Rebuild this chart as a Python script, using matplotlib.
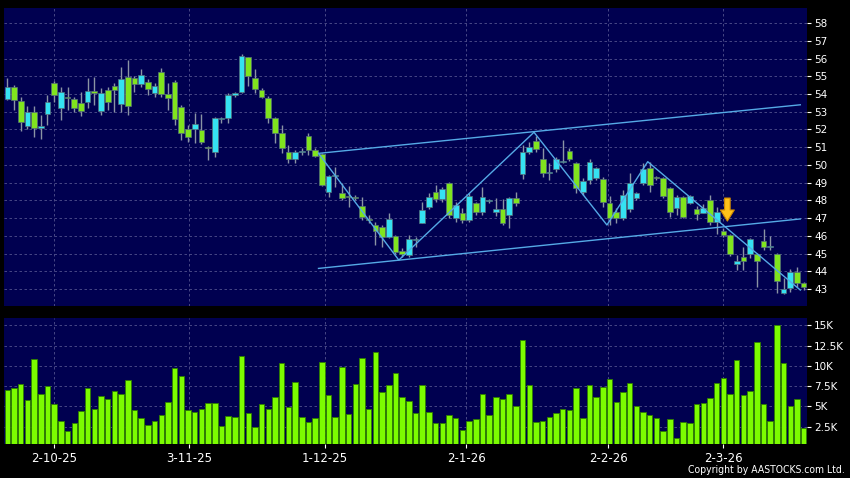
import matplotlib.pyplot as plt
import numpy as np

# daily OHLC, one entry per trading day
opens = [53.70, 54.41, 53.60, 52.20, 53.00, 52.10, 52.87, 54.60, 53.19, 53.80,
         53.70, 53.47, 53.52, 54.18, 53.05, 54.22, 54.47, 53.41, 54.97, 54.88,
         54.54, 54.69, 54.03, 55.22, 54.00, 54.65, 53.28, 52.00, 52.00, 51.97,
         50.98, 50.74, 52.60, 52.62, 53.96, 54.09, 56.06, 54.88, 54.22, 53.80,
         52.62, 51.78, 50.74, 50.31, 50.74, 51.63, 50.84, 50.61, 48.49, 49.37,
         48.39, 48.24, 48.17, 47.68, 46.93, 46.61, 46.51, 45.95, 45.99, 45.14,
         44.90, 45.76, 46.74, 47.64, 48.49, 48.05, 48.99, 46.98, 47.30, 46.89,
         47.83, 47.36, 47.96, 47.36, 47.49, 47.17, 48.11, 49.48, 50.74, 51.36,
         50.31, 49.56, 49.75, 50.18, 50.78, 50.08, 48.49, 49.15, 49.28, 49.18,
         47.83, 47.36, 46.98, 47.49, 48.15, 48.99, 49.80, 49.28, 49.24, 48.67,
         47.55, 48.17, 47.87, 47.49, 47.30, 48.02, 46.79, 46.27, 46.04, 44.41,
         44.78, 45.00, 44.97, 45.72, 45.38, 44.97, 42.79, 43.03, 43.97, 43.32]
highs = [54.88, 54.50, 53.85, 53.35, 53.30, 52.80, 53.94, 54.75, 54.41, 54.41,
         53.85, 54.13, 54.88, 54.97, 54.31, 54.41, 54.60, 55.54, 55.91, 55.01,
         55.39, 54.82, 54.63, 55.44, 54.60, 54.78, 53.37, 52.25, 52.90, 52.87,
         51.06, 52.72, 52.72, 54.07, 54.13, 56.25, 56.10, 55.39, 54.31, 53.88,
         52.72, 52.25, 51.12, 50.84, 50.93, 51.78, 50.93, 50.69, 49.43, 49.90,
         48.96, 48.81, 48.30, 48.20, 47.17, 46.80, 46.61, 47.27, 46.04, 45.30,
         46.04, 45.95, 47.92, 48.39, 48.86, 48.77, 49.05, 47.92, 47.55, 48.39,
         47.92, 48.77, 48.05, 48.11, 48.09, 48.20, 48.49, 51.12, 51.30, 51.63,
         50.93, 50.08, 50.42, 51.40, 50.93, 50.18, 49.24, 50.31, 49.90, 49.33,
         48.24, 47.55, 48.58, 49.52, 48.49, 50.08, 50.18, 49.35, 49.33, 48.77,
         48.30, 48.24, 48.30, 47.68, 47.79, 48.30, 47.64, 46.42, 46.10, 44.92,
         45.38, 45.85, 45.05, 46.36, 45.99, 45.05, 43.60, 44.10, 44.26, 43.41]
lows = [53.65, 53.10, 51.90, 52.00, 51.60, 51.45, 52.25, 53.56, 52.53, 53.10,
        53.00, 52.75, 53.19, 53.37, 52.81, 53.09, 53.00, 53.00, 52.81, 54.13,
        54.41, 53.94, 53.84, 53.84, 53.10, 52.25, 51.40, 51.31, 51.21, 51.18,
        50.27, 50.46, 52.34, 52.34, 53.84, 54.03, 54.45, 54.03, 53.80, 52.34,
        51.21, 50.65, 50.08, 50.12, 50.55, 50.55, 50.46, 48.81, 48.17, 48.77,
        48.02, 47.64, 48.02, 46.89, 46.70, 45.48, 45.39, 45.85, 45.00, 44.82,
        44.82, 45.38, 46.70, 47.50, 47.92, 47.90, 47.00, 46.80, 46.75, 46.80,
        47.20, 47.20, 47.85, 47.10, 46.60, 46.42, 47.70, 49.18, 50.60, 50.70,
        49.33, 49.15, 49.60, 50.08, 50.20, 48.40, 48.30, 48.90, 49.15, 47.64,
        46.60, 46.70, 46.89, 47.36, 48.00, 48.86, 48.49, 49.15, 48.11, 47.08,
        47.17, 46.98, 47.80, 46.89, 47.26, 46.61, 46.10, 45.95, 44.86, 44.07,
        44.07, 44.73, 43.13, 45.20, 45.20, 42.75, 42.72, 42.85, 43.13, 42.94]
closes = [54.41, 53.65, 52.40, 53.00, 52.10, 52.17, 53.56, 53.92, 54.13, 53.76,
          53.22, 53.02, 54.18, 54.03, 54.03, 53.52, 54.22, 54.82, 53.32, 54.54,
          55.07, 54.26, 54.47, 53.98, 53.80, 52.57, 51.78, 51.59, 52.28, 51.31,
          50.93, 52.62, 52.62, 53.94, 54.03, 56.14, 55.01, 54.26, 53.84, 52.62,
          51.78, 50.93, 50.31, 50.74, 50.78, 50.84, 50.50, 48.86, 49.37, 49.40,
          48.11, 48.20, 48.13, 47.04, 46.89, 46.29, 45.95, 46.93, 45.10, 44.95,
          45.80, 45.80, 47.45, 48.20, 48.05, 48.62, 47.17, 47.73, 46.89, 48.26,
          47.36, 48.17, 47.98, 47.49, 46.74, 48.11, 47.83, 50.74, 51.03, 50.88,
          49.52, 49.58, 50.31, 50.20, 50.31, 48.67, 49.11, 50.18, 49.80, 47.92,
          46.98, 46.98, 48.30, 48.96, 48.39, 49.75, 48.86, 49.26, 48.24, 47.36,
          48.20, 47.04, 48.24, 47.23, 47.55, 46.79, 47.36, 46.04, 44.97, 44.60,
          44.60, 45.80, 44.60, 45.35, 45.40, 43.47, 42.98, 43.97, 43.35, 43.09]
# volume in thousands
volumes = [7.05, 7.21, 7.70, 5.78, 10.82, 6.48, 7.54, 5.25, 3.20, 1.97,
           2.99, 4.47, 7.25, 4.67, 6.31, 5.90, 6.93, 6.52, 8.20, 4.55,
           3.52, 2.70, 3.16, 3.98, 5.57, 9.67, 8.69, 4.59, 4.34, 4.63,
           5.37, 5.37, 2.58, 3.77, 3.69, 11.23, 4.18, 2.42, 5.33, 4.67,
           6.19, 10.29, 4.88, 7.95, 3.65, 3.11, 3.61, 10.49, 6.35, 3.69,
           9.80, 4.02, 7.75, 10.94, 4.63, 11.72, 6.80, 7.62, 9.06, 6.11,
           5.61, 4.22, 7.58, 4.26, 2.99, 2.91, 3.98, 3.61, 2.05, 3.20,
           3.40, 6.56, 3.93, 6.19, 5.94, 6.48, 5.08, 13.20, 7.66, 3.03,
           3.20, 3.73, 4.22, 4.71, 4.59, 7.25, 3.57, 7.58, 6.15, 7.34,
           8.32, 5.53, 6.72, 7.83, 5.08, 4.30, 3.89, 3.61, 2.01, 3.40,
           1.11, 3.11, 2.95, 5.33, 5.37, 6.02, 7.87, 8.48, 6.56, 10.66,
           6.43, 6.89, 12.91, 5.25, 3.24, 15.00, 10.29, 5.04, 5.94, 2.30]

date_labels = ['2-10-25', '3-11-25', '1-12-25', '2-1-26', '2-2-26', '2-3-26']
date_pos = [7, 27.2, 47.4, 68.6, 89.8, 107]
price_ticks = list(range(43, 59))
vol_ticks = [2.5, 5, 7.5, 10, 12.5, 15]
vol_labels = ['2.5K', '5K', '7.5K', '10K', '12.5K', '15K']

# drawn trend lines (x = bar index, y = price)
upper_x, upper_y = [46.5, 118.5], [50.65, 53.39]
lower_x, lower_y = [46.5, 118.5], [44.16, 46.95]
zig_x = [46.5, 58.5, 78.7, 89.6, 95.7, 118.5]
zig_y = [50.65, 44.63, 51.84, 46.61, 50.18, 42.94]
arrow_x, arrow_top, arrow_tip = 107.6, 48.13, 46.83

bg = '#000050'
grid_col = '#52528e'
up_col = '#35e2f2'
down_col = '#80e41e'

o = np.array(opens); c = np.array(closes)
x = np.arange(len(o))

fig = plt.figure(figsize=(8.5, 4.78), dpi=100, facecolor='black')
ax = fig.add_axes([4/850, 1-306/478, 803/850, 298/478])
axv = fig.add_axes([4/850, 1-443.5/478, 803/850, 125.5/478], sharex=ax)

for a in (ax, axv):
    a.set_facecolor(bg)
    for s in a.spines.values():
        s.set_visible(False)
    a.grid(True, color=grid_col, ls=(0, (3, 3)), lw=0.6)
    a.set_axisbelow(True)

# candles: wick then body (min height so dojis still show as a line)
ax.vlines(x, lows, highs, color='#8a94a4', lw=1, zorder=2)
body_low = np.minimum(o, c)
body_h = np.maximum(np.abs(c - o), 0.06)
cols = [up_col if cc >= oo else down_col for oo, cc in zip(o, c)]
ax.bar(x, body_h, bottom=body_low, width=0.85,
       color=cols, edgecolor='#55707a', lw=0.5, zorder=3)

ax.plot(upper_x, upper_y, color='#55aae6', lw=1, zorder=4)
ax.plot(lower_x, lower_y, color='#55aae6', lw=1, zorder=4)
ax.plot(zig_x, zig_y, color='#55aae6', lw=1, zorder=4)
ax.annotate('', xy=(arrow_x, arrow_tip), xytext=(arrow_x, arrow_top),
            arrowprops=dict(width=4, headwidth=10, headlength=8, shrink=0,
                            facecolor='#ffc21a', edgecolor='#d08a00', lw=0.8),
            zorder=5)

ax.set_ylim(42.04, 58.85)
ax.set_yticks(price_ticks)
ax.yaxis.tick_right()
ax.tick_params(axis='y', colors='white', length=3, labelsize=7.5, pad=2)
ax.tick_params(axis='x', bottom=False, labelbottom=False)

# volume
axv.bar(x, volumes, width=0.82, color='#7cfc00', edgecolor='#2e7d00', lw=0.6, zorder=3)
axv.set_ylim(0.43, 15.89)
axv.set_yticks(vol_ticks)
axv.set_yticklabels(vol_labels)
axv.yaxis.tick_right()
axv.tick_params(axis='y', colors='white', length=3, labelsize=7.5, pad=2)
axv.set_xticks(date_pos)
axv.set_xticklabels(date_labels)
axv.tick_params(axis='x', colors='white', length=3, labelsize=8.5, pad=3)
axv.set_xlim(-0.5, 119.5)

fig.text(845/850, 1-470/478, 'Copyright by AASTOCKS.com Ltd.', color='white',
         fontsize=7.5, ha='right', va='center', fontstretch='condensed')

plt.savefig('out.png', dpi=100, facecolor='black')
plt.close()
